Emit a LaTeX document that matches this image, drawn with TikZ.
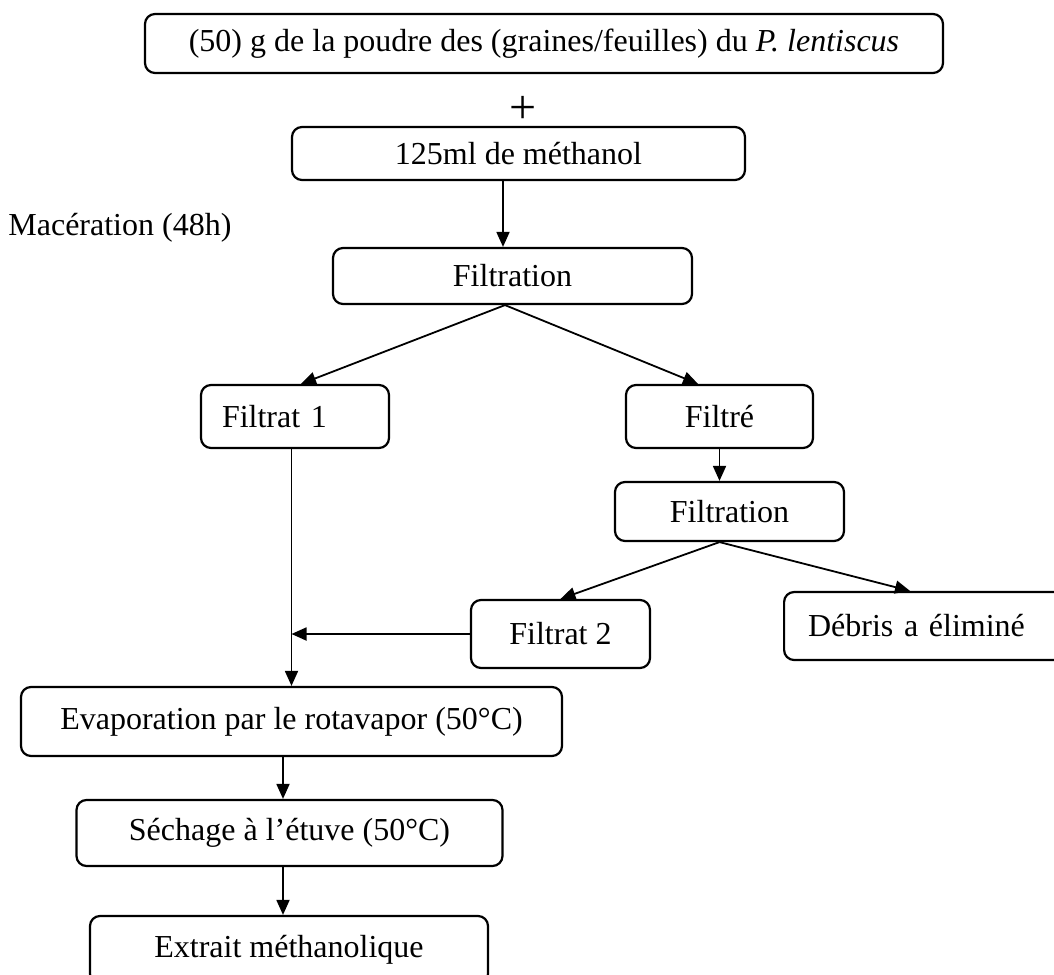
\documentclass[tikz,border=0pt]{standalone}
\usepackage{fontspec}
\setmainfont{Liberation Serif}
\usetikzlibrary{arrows.meta}

\begin{document}
\begin{tikzpicture}[x=0.5pt, y=-0.5pt, every node/.style={font=\fontsize{16}{19}\selectfont},
  etape/.style={draw, rounded corners=5pt, line width=1.1pt, inner sep=0pt},
  fleche/.style={line width=0.9pt, -{Triangle[length=7.5pt, width=6.5pt]}}]
  \useasboundingbox (0,0) rectangle (1054,974);
  \node[etape, minimum width=399pt, minimum height=29.5pt] (poudre) at (544, 43.5) {(50) g de la poudre des (graines/feuilles) du \textit{P. lentiscus}};
  \node[inner sep=0pt, font=\fontsize{24}{24}\selectfont] (plus) at (523, 110) {+};
  \node[etape, minimum width=226.5pt, minimum height=26.5pt] (m125) at (518.5, 153.5) {125ml de méthanol};
  \node[inner sep=0pt, anchor=base west] (mac) at (8, 235) {Macération (48h)};
  \node[etape, minimum width=179.5pt, minimum height=28pt] (filtA) at (512.5, 276) {Filtration};
  \node[etape, text width=73pt, align=left, inner xsep=10.5pt, minimum height=31.5pt] (filtrat1) at (295, 416.5) {Filtrat 1};
  \node[etape, minimum width=93.5pt, minimum height=31.5pt] (filtre) at (719.5, 416.5) {Filtré};
  \node[etape, minimum width=114.5pt, minimum height=29.5pt] (filtB) at (729.5, 511.5) {Filtration};
  \node[etape, minimum width=89.5pt, minimum height=34pt] (filtrat2) at (560.5, 634) {Filtrat 2};
  \node[etape, text width=135pt, align=left, inner xsep=12pt, minimum height=34pt, anchor=west] (debris) at (783, 626) {Débris a éliminé};
  \node[etape, minimum width=270.5pt, minimum height=34.5pt] (evap) at (291.5, 721.5) {Evaporation par le rotavapor (50°C)};
  \node[etape, minimum width=213pt, minimum height=33pt] (sech) at (289.5, 833) {Séchage à l’étuve (50°C)};
  \node[etape, minimum width=199pt, minimum height=34pt] (extr) at (289, 950) {Extrait méthanolique};
  \draw[fleche] ([xshift=-7.75pt]m125.south) -- ([xshift=-4.75pt]filtA.north);
  \draw[fleche] ([xshift=-3.75pt]filtA.south) -- ([xshift=3pt]filtrat1.north);
  \draw[fleche] ([xshift=-3.75pt]filtA.south) -- ([xshift=-10.75pt]filtre.north);
  \draw[fleche] (filtre.south) -- (filtre.south |- filtB.north);
  \draw[fleche] ([xshift=-5pt]filtB.south) -- (filtrat2.north);
  \draw[fleche] ([xshift=-5pt]filtB.south) -- ([xshift=63.5pt]debris.north west);
  \draw[fleche] (filtrat1.south -| evap.north) -- (evap.north);
  \draw[fleche] (filtrat2.west) -- (filtrat2.west -| evap.north);
  \draw[fleche] ([xshift=-4.25pt]evap.south) -- ([xshift=-4.25pt]evap.south |- sech.north);
  \draw[fleche] ([xshift=-3.25pt]sech.south) -- ([xshift=-3.25pt]sech.south |- extr.north);
\end{tikzpicture}
\end{document}
